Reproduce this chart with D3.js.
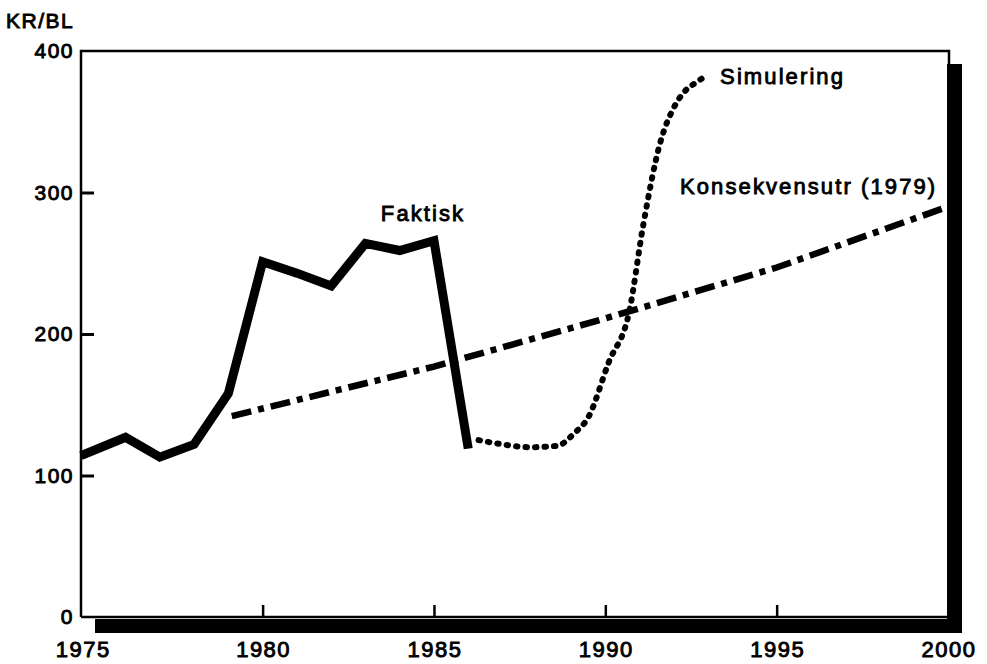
<!DOCTYPE html>
<html>
<head>
<meta charset="utf-8">
<script src="https://cdn.jsdelivr.net/npm/d3@7"></script>
<style>
  html, body { margin: 0; padding: 0; background: #fff; }
  svg text { font-family: "Liberation Sans", Arial, Helvetica, sans-serif; fill: #000; stroke: #000; stroke-width: 0.9px; }
</style>
</head>
<body>
<svg id="chart" width="987" height="664"></svg>
<script>
// ---- data ----
const faktiskYears  = [1974.7, 1976, 1977, 1978, 1979, 1980, 1981, 1982, 1983, 1984, 1985, 1986];
const faktiskValues = [114, 127, 113, 122, 158, 251, 243, 234, 264, 259, 266, 119];

const konsYears  = [1979.1, 1985, 1990, 1995, 2000];
const konsValues = [142, 177, 211, 247, 290];

const simYears  = [1986.3, 1987, 1987.8, 1988.6, 1989.1, 1989.5, 1990.1, 1990.7, 1991.1, 1991.6, 1992, 1992.3, 1992.6, 1992.85];
const simValues = [125, 122, 120, 121, 130, 141, 180, 216, 276, 335, 360, 371, 377, 381];

const xTicks = [1975, 1980, 1985, 1990, 1995, 2000];
const yTicks = [0, 100, 200, 300, 400];

const yUnit = "KR/BL";
const labels = [
  {text: "Faktisk", year: 1983.45, value: 280},
  {text: "Simulering", year: 1993.35, value: 377},
  {text: "Konsekvensutr (1979)", year: 1992.18, value: 299}
];

// ---- layout ----
const svg = d3.select("#chart");
const mLeft = 81, mRight = 948, mTop = 51, mBottom = 617;
const x = d3.scaleLinear().domain([1974.7, 2000]).range([mLeft, mRight]);
const y = d3.scaleLinear().domain([0, 400]).range([mBottom, mTop]);

// shadow bars (thick frame on bottom and right)
svg.append("rect").attr("x", 95).attr("y", 619).attr("width", 962 - 95).attr("height", 14).attr("fill", "#000");
svg.append("rect").attr("x", 947).attr("y", 64).attr("width", 15).attr("height", 633 - 64).attr("fill", "#000");

// frame lines
const frame = svg.append("g").attr("stroke", "#000").attr("fill", "none");
frame.append("path").attr("d", `M${mLeft},${mBottom} L${mLeft},${mTop} L${mRight+1},${mTop} L${mRight+1},${mBottom}`).attr("stroke-width", 2.5);
frame.append("line").attr("x1", mLeft).attr("x2", mRight).attr("y1", mBottom).attr("y2", mBottom).attr("stroke-width", 2.5);

// y axis ticks (inward) and labels
const yAxis = d3.axisRight(y).tickValues(yTicks).tickSize(13).tickFormat("");
const gy = svg.append("g").attr("transform", `translate(${mLeft},0)`).call(yAxis);
gy.select(".domain").remove();
gy.selectAll(".tick line").attr("stroke", "#000").attr("stroke-width", 3)
  .filter(d => d === 0 || d === 400).remove();

svg.append("g").selectAll("text").data(yTicks).join("text")
  .attr("x", 74).attr("y", d => y(d) + 7)
  .attr("text-anchor", "end").attr("font-size", 21).attr("letter-spacing", 1.5)
  .text(d => d);

// x axis ticks (inward) and labels
const xAxis = d3.axisTop(x).tickValues(xTicks).tickSize(12).tickFormat("");
const gx = svg.append("g").attr("transform", `translate(0,${mBottom})`).call(xAxis);
gx.select(".domain").remove();
gx.selectAll(".tick line").attr("stroke", "#000").attr("stroke-width", 2.5)
  .filter(d => d === 1975 || d === 2000).remove();

svg.append("g").selectAll("text").data(xTicks).join("text")
  .attr("x", d => x(d) + (d === 1975 ? -8 : 1)).attr("y", 657)
  .attr("text-anchor", "middle").attr("font-size", 22).attr("letter-spacing", 1.5)
  .text(d => d);

// unit label
svg.append("text").attr("x", 6).attr("y", 28).attr("font-size", 21).attr("letter-spacing", 1.5).text(yUnit);

// ---- lines ----
const line = d3.line().x(d => x(d[0])).y(d => y(d[1]));

svg.append("path")
  .datum(konsYears.map((d, i) => [d, konsValues[i]]))
  .attr("d", line)
  .attr("fill", "none").attr("stroke", "#000").attr("stroke-width", 6.5)
  .attr("stroke-dasharray", "20,7,6,7");

svg.append("path")
  .datum(simYears.map((d, i) => [d, simValues[i]]))
  .attr("d", d3.line().x(d => x(d[0])).y(d => y(d[1])).curve(d3.curveMonotoneX))
  .attr("fill", "none").attr("stroke", "#000").attr("stroke-width", 6)
  .attr("stroke-linecap", "round").attr("stroke-dasharray", "1.5,8");

svg.append("path")
  .datum(faktiskYears.map((d, i) => [d, faktiskValues[i]]))
  .attr("d", line)
  .attr("fill", "none").attr("stroke", "#000").attr("stroke-width", 9)
  .attr("stroke-linejoin", "miter");

// ---- series labels ----
svg.append("g").selectAll("text").data(labels).join("text")
  .attr("x", d => x(d.year)).attr("y", d => y(d.value))
  .attr("font-size", 22).attr("letter-spacing", 2.1)
  .text(d => d.text);
</script>
</body>
</html>
